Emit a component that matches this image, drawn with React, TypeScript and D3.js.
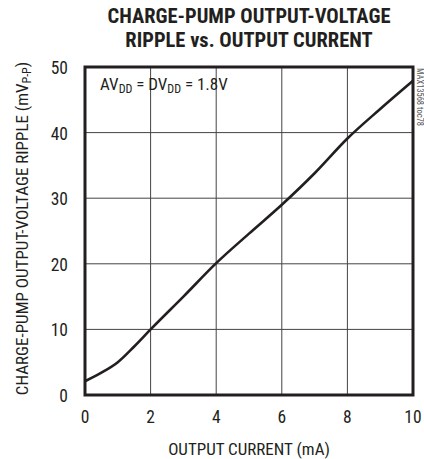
import React from "react";
import * as d3 from "d3";

const currentMA = [0, 0.5, 1, 1.5, 2, 3, 4, 5, 6, 7, 8, 9, 10];
const rippleMV = [2.1, 3.4, 5.0, 7.4, 10.0, 15.0, 20.1, 24.6, 29.0, 33.8, 39.1, 43.6, 47.9];
const xTicks = [0, 2, 4, 6, 8, 10];
const yTicks = [0, 10, 20, 30, 40, 50];

const W = 424;
const H = 459;
const M = { left: 85, right: 413, top: 67, bottom: 395 };
const FONT = "'Liberation Sans Narrow', 'Roboto Condensed', 'Arial Narrow', 'Liberation Sans', sans-serif";
const INK = "#231f20";

export default function App() {
  const x = d3.scaleLinear().domain([0, 10]).range([M.left, M.right]);
  const y = d3.scaleLinear().domain([0, 50]).range([M.bottom, M.top]);
  const line = d3
    .line<number>()
    .x((_, i) => x(currentMA[i]))
    .y((d) => y(d))
    .curve(d3.curveMonotoneX);

  return (
    <svg
      width={W}
      height={H}
      style={{ position: "absolute", left: 0, top: 0, background: "#fff" }}
      fontFamily={FONT}
    >
      <text x={249} y={23} textAnchor="middle" fontSize={20.5} fontWeight="bold" fill={INK}>
        CHARGE-PUMP OUTPUT-VOLTAGE
      </text>
      <text x={249} y={47} textAnchor="middle" fontSize={20.5} fontWeight="bold" fill={INK}>
        RIPPLE vs. OUTPUT CURRENT
      </text>

      {xTicks.slice(1, -1).map((t) => (
        <line key={"gx" + t} x1={x(t)} x2={x(t)} y1={M.top} y2={M.bottom} stroke="#444" strokeWidth={1} />
      ))}
      {yTicks.slice(1, -1).map((t) => (
        <line key={"gy" + t} x1={M.left} x2={M.right} y1={y(t)} y2={y(t)} stroke="#444" strokeWidth={1} />
      ))}

      <path d={line(rippleMV) || ""} fill="none" stroke={INK} strokeWidth={2.6} />

      <rect
        x={M.left}
        y={M.top}
        width={M.right - M.left}
        height={M.bottom - M.top}
        fill="none"
        stroke={INK}
        strokeWidth={3}
      />

      {yTicks.map((t) => (
        <text key={"ty" + t} x={68} y={y(t) + 7} textAnchor="end" fontSize={17.5} fill={INK}>
          {t}
        </text>
      ))}
      {xTicks.map((t) => (
        <text key={"tx" + t} x={x(t)} y={423} textAnchor="middle" fontSize={17.5} fill={INK}>
          {t}
        </text>
      ))}

      <text x={249} y={455} textAnchor="middle" fontSize={17} fill={INK}>
        OUTPUT CURRENT (mA)
      </text>

      <text
        transform={`translate(28, 228.5) rotate(-90)`}
        textAnchor="middle"
        fontSize={17}
        fill={INK}
      >
        CHARGE-PUMP OUTPUT-VOLTAGE RIPPLE (mV
        <tspan fontSize={12} dy={3}>P-P</tspan>
        <tspan dy={-3}>)</tspan>
      </text>

      <text x={100} y={90} fontSize={17} fill={INK}>
        AV<tspan fontSize={12} dy={3}>DD</tspan>
        <tspan dy={-3}> = DV</tspan>
        <tspan fontSize={12} dy={3}>DD</tspan>
        <tspan dy={-3}> = 1.8V</tspan>
      </text>

      <text
        transform={`translate(417, 68) rotate(90)`}
        textAnchor="start"
        fontSize={8.5}
        fill="#555"
      >
        MAX13568 toc78
      </text>
    </svg>
  );
}
